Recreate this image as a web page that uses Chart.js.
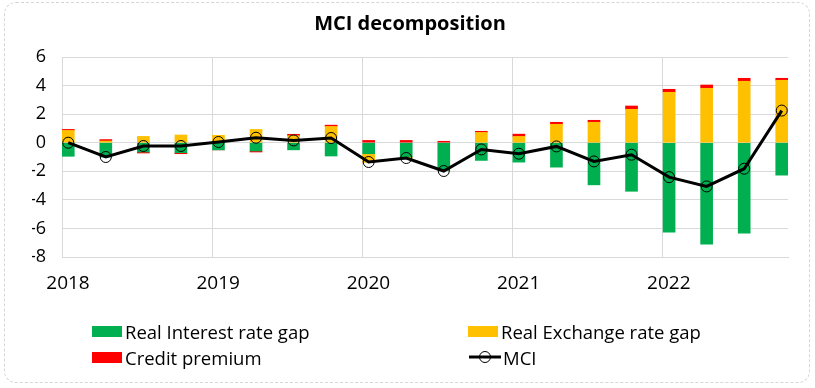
<!DOCTYPE html>
<html>
<head>
<meta charset="utf-8">
<title>MCI decomposition</title>
<script src="https://cdn.jsdelivr.net/npm/chart.js@4.4.0/dist/chart.umd.min.js"></script>
<style>
  body { margin: 0; background: #fff; }
  #wrap { position: relative; width: 815px; height: 388px; font-family: "Open Sans", sans-serif; }
  #frame { position: absolute; left: 4px; top: 2px; width: 806px; height: 381px; box-sizing: border-box;
           border: 1px dashed #d6d6d6; border-radius: 12px; }
  #chartBox { position: absolute; left: 0; top: 0; width: 815px; height: 388px; }
  #legend { position: absolute; left: 0; top: 0; width: 815px; height: 388px; pointer-events: none; }
  .item { position: absolute; display: flex; align-items: center; height: 24px; font-size: 18.5px; color: #000; white-space: nowrap; }
  .swatch { width: 30px; height: 11px; margin-right: 3px; }
</style>
</head>
<body>
<div id="wrap">
  <div id="frame"></div>
  <div id="chartBox"><canvas id="mciChart"></canvas></div>
  <div id="legend"></div>
</div>
<script>
// tahun di sumbu x (garis grid tiap Januari)
const yearLabels = ['2018', '2019', '2020', '2021', '2022'];
// posisi tiap kuartal = bulan sejak Jan 2018 (Jan, Apr, Jul, Okt)
const quarterMonths = [0, 3, 6, 9, 12, 15, 18, 21, 24, 27, 30, 33, 36, 39, 42, 45, 48, 51, 54, 57];

// komponen MCI per kuartal, 2018Q1 - 2022Q4
const realInterestGap = [-0.95, -1.0, -0.65, -0.7, -0.5, -0.58, -0.5, -0.93, -0.77, -1.0,
                         -1.93, -1.24, -1.36, -1.71, -2.95, -3.4, -6.27, -7.11, -6.34, -2.27];
const realExchangeGap = [0.86, 0.12, 0.44, 0.54, 0.52, 0.93, 0.49, 1.14, -0.6, -0.05,
                         0.0, 0.72, 0.44, 1.29, 1.43, 2.34, 3.53, 3.81, 4.3, 4.37];
const creditPremium = [0.07, 0.1, -0.07, -0.07, 0.0, -0.07, 0.1, 0.09, 0.16, 0.16,
                       0.1, 0.08, 0.16, 0.14, 0.14, 0.23, 0.21, 0.23, 0.21, 0.14];
const mciValues = [0.0, -1.0, -0.23, -0.23, 0.05, 0.35, 0.16, 0.33, -1.35, -1.07,
                   -1.98, -0.47, -0.77, -0.26, -1.31, -0.84, -2.41, -3.06, -1.82, 2.25];

const gridColor = '#d9d9d9';
const fontFamily = '"Open Sans", sans-serif';

// bar berada di tengah bulannya
function toPoints(values) {
    return values.map((v, i) => ({ x: quarterMonths[i] + 0.5, y: v }));
}

function barSet(label, values, color) {
    return {
        type: 'bar',
        label: label,
        data: toPoints(values),
        backgroundColor: color,
        borderWidth: 0,
        barThickness: 12,
        grouped: false,
        stack: 'komponen',
        order: 2
    };
}

const ctx = document.getElementById('mciChart').getContext('2d');
const chart = new Chart(ctx, {
    data: {
        datasets: [
            barSet('Real Interest rate gap', realInterestGap, '#00b050'),
            barSet('Real Exchange rate gap', realExchangeGap, '#ffc000'),
            barSet('Credit premium', creditPremium, '#ff0000'),
            {
                type: 'line',
                label: 'MCI',
                data: toPoints(mciValues),
                borderColor: '#000000',
                borderWidth: 3,
                pointRadius: 5.5,
                pointBorderWidth: 1,
                pointBorderColor: '#000000',
                pointBackgroundColor: 'rgba(0,0,0,0)',
                tension: 0,
                stack: 'mci',
                order: 1
            }
        ]
    },
    options: {
        responsive: true,
        maintainAspectRatio: false,
        animation: false,
        layout: { padding: { left: 32, right: 27, top: 0, bottom: 91 } },
        plugins: {
            legend: { display: false },
            tooltip: { enabled: false },
            title: {
                display: true,
                text: 'MCI decomposition',
                color: '#000000',
                font: { family: fontFamily, size: 20, weight: 'bold' },
                padding: { top: 12, bottom: 21 }
            }
        },
        scales: {
            x: {
                type: 'linear',
                min: 0,
                max: 58,
                offset: false,
                grid: { color: gridColor, drawTicks: false, offset: false },
                border: { color: gridColor },
                ticks: {
                    stepSize: 12,
                    includeBounds: false,
                    padding: 15,
                    labelOffset: 6,
                    maxRotation: 0,
                    color: '#000000',
                    font: { family: fontFamily, size: 19 },
                    callback: function(value) {
                        return yearLabels[value / 12];
                    }
                },
                afterFit: function(scale) { scale.height = 40; }
            },
            y: {
                stacked: true,
                min: -8,
                max: 6,
                grid: { color: gridColor, drawTicks: false },
                border: { color: gridColor },
                ticks: {
                    stepSize: 2,
                    padding: 16,
                    color: '#000000',
                    font: { family: fontFamily, size: 18 }
                },
                afterFit: function(scale) { scale.width = 30; }
            }
        }
    }
});

// legenda HTML 2x2 seperti di Excel
function buildLegend() {
    const box = document.getElementById('legend');
    const spots = [[92, 319], [468, 319], [92, 345], [468, 345]];
    chart.data.datasets.forEach((ds, i) => {
        const item = document.createElement('div');
        item.className = 'item';
        item.style.left = spots[i][0] + 'px';
        item.style.top = spots[i][1] + 'px';
        let symbol;
        if (ds.type === 'line') {
            symbol = '<svg width="34" height="14" style="margin-right:1px"><line x1="1" y1="7" x2="33" y2="7" stroke="#000" stroke-width="3"/>' +
                     '<circle cx="17" cy="7" r="5.5" fill="none" stroke="#000" stroke-width="1"/></svg>';
        } else {
            symbol = '<span class="swatch" style="background:' + ds.backgroundColor + '"></span>';
        }
        item.innerHTML = symbol + '<span>' + ds.label + '</span>';
        box.appendChild(item);
    });
}
buildLegend();
</script>
</body>
</html>
